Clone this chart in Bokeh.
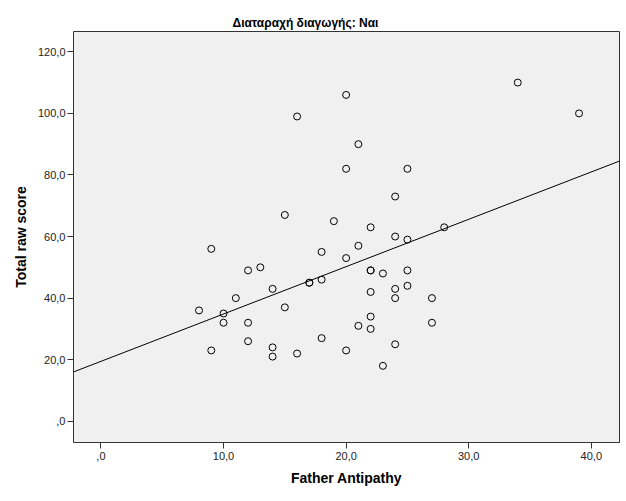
import numpy as np
from bokeh.plotting import figure
from bokeh.models import FixedTicker, Range1d, Slope
from bokeh.embed import file_html
from bokeh.resources import INLINE

# ---- data ----
father_antipathy = [34, 39, 20, 16, 21, 20, 25, 24, 15, 19, 28, 22, 9, 24, 25, 21,
                    18, 20, 13, 12, 22, 22, 25, 23, 17, 17, 18, 22, 25, 24, 14, 11,
                    24, 27, 8, 10, 10, 12, 27, 15, 22, 21, 22, 18, 12, 24, 14, 14,
                    9, 16, 20, 23]
total_raw_score = [110, 100, 106, 99, 90, 82, 82, 73, 67, 65, 63, 63, 56, 60, 59, 57,
                   55, 53, 50, 49, 49, 49, 49, 48, 45, 45, 46, 42, 44, 43, 43, 40,
                   40, 40, 36, 35, 32, 32, 32, 37, 34, 31, 30, 27, 26, 25, 24, 21,
                   23, 22, 23, 18]

x_ticks = [0, 10, 20, 30, 40]
x_tick_labels = [",0", "10,0", "20,0", "30,0", "40,0"]
y_ticks = [0, 20, 40, 60, 80, 100, 120]
y_tick_labels = [",0", "20,0", "40,0", "60,0", "80,0", "100,0", "120,0"]

title_text = "Διαταραχή διαγωγής: Ναι"
x_label = "Father Antipathy"
y_label = "Total raw score"

FONT = "Liberation Sans"

p = figure(width=626, height=501, output_backend="svg", toolbar_location=None,
           x_range=Range1d(-2.24, 42.3), y_range=Range1d(-6.9, 126.6),
           min_border_left=73, min_border_right=7, min_border_top=31, min_border_bottom=59)

p.background_fill_color = "#f0f0f0"
p.border_fill_color = "white"
p.outline_line_color = "#333333"
p.outline_line_width = 1
p.grid.visible = False

p.title.text = title_text
p.title.align = "left"
p.title.offset = 159
p.title.text_font = FONT
p.title.text_font_size = "12px"
p.title.text_font_style = "bold"
p.title.text_color = "black"
p.title.standoff = 4

for ax, ticks, labels, lab in ((p.xaxis[0], x_ticks, x_tick_labels, x_label),
                               (p.yaxis[0], y_ticks, y_tick_labels, y_label)):
    ax.ticker = FixedTicker(ticks=ticks)
    ax.major_label_overrides = {t: s for t, s in zip(ticks, labels)}
    ax.minor_tick_line_color = None
    ax.major_tick_out = 6
    ax.major_tick_in = 0
    ax.major_tick_line_color = "#333333"
    ax.axis_line_color = None
    ax.major_label_text_font = FONT
    ax.major_label_text_font_size = "11px"
    ax.major_label_text_color = "#222222"
    ax.axis_label = lab
    ax.axis_label_text_font = FONT
    ax.axis_label_text_font_size = "14px"
    ax.axis_label_text_font_style = "bold"
    ax.axis_label_text_color = "black"

p.xaxis[0].major_label_standoff = 3
p.xaxis[0].axis_label_standoff = 7
p.yaxis[0].major_label_standoff = 2
p.yaxis[0].axis_label_standoff = 6

# regression fit line computed from the data
slope, intercept = np.polyfit(np.array(father_antipathy, float), np.array(total_raw_score, float), 1)
p.add_layout(Slope(gradient=float(slope), y_intercept=float(intercept), line_color="black", line_width=1))

p.scatter(father_antipathy, total_raw_score, marker="circle", size=7,
          fill_color=None, line_color="black", line_width=1)

open("out.html", "w").write(file_html(p, INLINE))
